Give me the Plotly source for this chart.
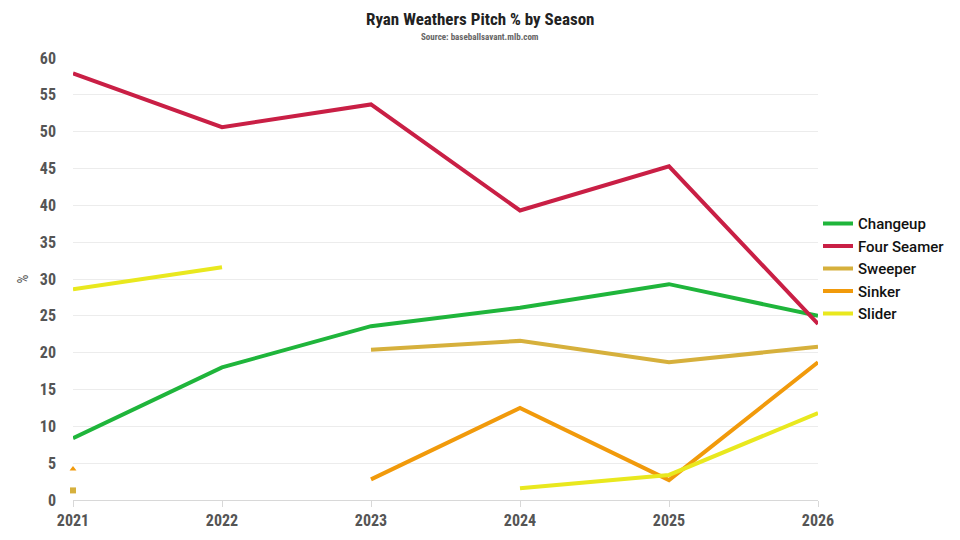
import plotly.graph_objects as go

seasons = [2021, 2022, 2023, 2024, 2025, 2026]

changeup = [8.4, 18.0, 23.6, 26.1, 29.3, 25.0]
four_seamer = [57.9, 50.6, 53.7, 39.3, 45.3, 23.9]
sweeper = [1.3, None, 20.4, 21.6, 18.7, 20.8]
sinker = [4.2, None, 2.8, 12.5, 2.7, 18.7]
slider = [28.6, 31.6, None, 1.6, 3.4, 11.8]

pitch_names = ["Changeup", "Four Seamer", "Sweeper", "Sinker", "Slider"]
pitch_values = [changeup, four_seamer, sweeper, sinker, slider]
pitch_colors = ["#1fb53b", "#c91f45", "#d6b03c", "#f19a0b", "#e9e81e"]
pitch_symbols = ["circle", "diamond", "square", "triangle-up", "triangle-down"]

y_ticks = [0, 5, 10, 15, 20, 25, 30, 35, 40, 45, 50, 55, 60]

font_main = "Roboto Condensed, Roboto, Liberation Sans, sans-serif"
font_legend = "Roboto, Liberation Sans, sans-serif"

fig = go.Figure()

for name, vals, color, sym in zip(pitch_names, pitch_values, pitch_colors, pitch_symbols):
    fig.add_trace(go.Scatter(
        x=seasons, y=vals, name=name,
        mode="lines",
        line=dict(width=4, color=color),
        connectgaps=False))
    # points with no neighbours get a marker (otherwise invisible)
    lone_x, lone_y = [], []
    for i, v in enumerate(vals):
        if v is None:
            continue
        prev_ok = i > 0 and vals[i - 1] is not None
        next_ok = i < len(vals) - 1 and vals[i + 1] is not None
        if not prev_ok and not next_ok:
            lone_x.append(seasons[i])
            lone_y.append(v)
    if lone_x:
        fig.add_trace(go.Scatter(
            x=lone_x, y=lone_y, mode="markers", showlegend=False,
            marker=dict(symbol=sym, size=6, color=color),
            cliponaxis=False, hoverinfo="skip"))

# title + source line, centred on the page
fig.add_annotation(
    text="<b>Ryan Weathers Pitch % by Season</b>", showarrow=False,
    xref="paper", yref="paper", x=0.546, y=1.113,
    xanchor="center", yanchor="top", borderpad=0,
    font=dict(family=font_main, size=17, color="#222"))
fig.add_annotation(
    text="<b>Source: baseballsavant.mlb.com</b>", showarrow=False,
    xref="paper", yref="paper", x=0.546, y=1.0475,
    xanchor="center", yanchor="middle",
    font=dict(family=font_main, size=9, color="#666"))

# page body has an 8px margin, so the figure is 952x532
fig.update_layout(
    width=952, height=532,
    plot_bgcolor="white", paper_bgcolor="white",
    margin=dict(l=65, r=142, t=50, b=40, autoexpand=False),
    legend=dict(
        x=1.0, xanchor="left", y=0.523, yanchor="middle",
        font=dict(family=font_legend, size=15, color="#111", weight=500),
        itemwidth=30, tracegroupgap=0,
        bgcolor="rgba(0,0,0,0)"),
    showlegend=True)

fig.update_xaxes(
    range=[2021, 2026], tickvals=seasons, ticktext=[str(s) for s in seasons],
    showgrid=False, showline=True, linecolor="#d8d8d8", linewidth=1,
    ticks="outside", ticklen=6, tickcolor="#d8d8d8",
    tickfont=dict(family=font_main, size=16, color="#555", weight="bold"),
    zeroline=False, fixedrange=True, automargin=False)

fig.update_yaxes(
    range=[0, 60], tickvals=y_ticks,
    showgrid=True, gridcolor="#ececec", gridwidth=1,
    zeroline=False, showline=False,
    title=dict(text="%", font=dict(family=font_main, size=14, color="#555"), standoff=7),
    tickfont=dict(family=font_main, size=16, color="#555", weight="bold"),
    ticklabelstandoff=16, fixedrange=True, automargin=False)

fig.write_html("out.html")
